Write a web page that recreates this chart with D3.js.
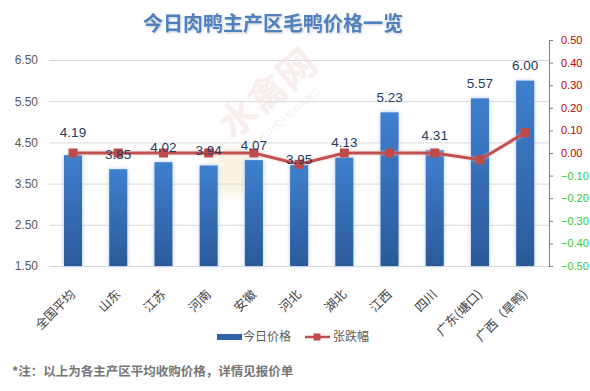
<!DOCTYPE html>
<html>
<head>
<meta charset="utf-8">
<script src="https://cdn.jsdelivr.net/npm/d3@7/dist/d3.min.js"></script>
<style>
  html, body { margin: 0; padding: 0; background: #ffffff; }
  svg { display: block; font-family: "Noto Sans CJK SC", "Noto Sans", sans-serif; }
</style>
</head>
<body>
<svg id="chart" width="590" height="391"></svg>
<script>
const categories = ["全国平均", "山东", "江苏", "河南", "安徽", "河北", "湖北", "江西", "四川", "广东(塘口)", "广西（旱鸭)"];
const prices = [4.19, 3.85, 4.02, 3.94, 4.07, 3.95, 4.13, 5.23, 4.31, 5.57, 6.00];
const changes = [0.00, 0.00, 0.00, 0.00, 0.00, -0.05, 0.00, 0.00, 0.00, -0.03, 0.09];
const leftTicks = [1.5, 2.5, 3.5, 4.5, 5.5, 6.5];
const rightTicks = [-0.5, -0.4, -0.3, -0.2, -0.1, 0, 0.1, 0.2, 0.3, 0.4, 0.5];
const titleText = "今日肉鸭主产区毛鸭价格一览";
const seriesNames = ["今日价格", "张跌幅"];
const noteText = "*注：以上为各主产区平均收购价格，详情见报价单";

// label vertical nudges (style, not data)
const labelNudge = {0: -8, 1: 0, 5: 9};
const numFont = "'Liberation Sans', Arial, sans-serif";

const svg = d3.select("#chart");
const defs = svg.append("defs");

const grad = defs.append("linearGradient").attr("id", "barGrad")
  .attr("x1", 0).attr("y1", 0).attr("x2", 0).attr("y2", 1);
grad.append("stop").attr("offset", "0%").attr("stop-color", "#3f7fcf");
grad.append("stop").attr("offset", "100%").attr("stop-color", "#2b5a9a");

const glow = defs.append("filter").attr("id", "glow")
  .attr("x", "-50%").attr("y", "-10%").attr("width", "200%").attr("height", "120%");
glow.append("feDropShadow").attr("dx", 0).attr("dy", 0).attr("stdDeviation", 2)
  .attr("flood-color", "#9cc3f0").attr("flood-opacity", 0.8);

const lineGlow = defs.append("filter").attr("id", "lineGlow")
  .attr("x", "-10%").attr("y", "-50%").attr("width", "120%").attr("height", "200%");
lineGlow.append("feDropShadow").attr("dx", 0).attr("dy", 0).attr("stdDeviation", 1.5)
  .attr("flood-color", "#f2b8b5").attr("flood-opacity", 0.8);

const titleShadow = defs.append("filter").attr("id", "titleShadow");
titleShadow.append("feDropShadow").attr("dx", 1).attr("dy", 1).attr("stdDeviation", 1)
  .attr("flood-color", "#9aa9bd").attr("flood-opacity", 0.6);

const wmBlur = defs.append("filter").attr("id", "wmBlur");
wmBlur.append("feGaussianBlur").attr("stdDeviation", 6);

const x = d3.scaleBand().domain(categories).range([50.4, 547.8])
  .paddingInner(0.6).paddingOuter(0.3);
const yL = d3.scaleLinear().domain([1.5, 6.5]).range([266, 60]);
const yR = d3.scaleLinear().domain([-0.5, 0.5]).range([266, 40]);

// Watermark
svg.append("circle").attr("cx", 232).attr("cy", 172).attr("r", 24)
  .attr("fill", "#f6efd6").attr("opacity", 0.7).attr("filter", "url(#wmBlur)");
const wm = svg.append("g").attr("transform", "translate(276,104) rotate(-40)");
wm.append("text").attr("text-anchor", "middle").attr("font-size", 38)
  .attr("font-weight", "bold").attr("fill", "#f8eeee").text("水禽网");
wm.append("text").attr("text-anchor", "middle").attr("y", 20).attr("font-size", 10)
  .attr("fill", "#f0f0f0").attr("letter-spacing", 1.5).text("SHUIQINWANG");

// Title
svg.append("text").attr("x", 273).attr("y", 31).attr("text-anchor", "middle")
  .attr("font-size", 20).attr("font-weight", "bold").attr("fill", "#4f7fbd")
  .attr("filter", "url(#titleShadow)").text(titleText);

// Gridlines + left axis
const leftAxis = d3.axisLeft(yL).tickValues(leftTicks)
  .tickFormat(d3.format(".2f")).tickSize(-(549 - 49)).tickPadding(11);
const gl = svg.append("g").attr("transform", "translate(49,0)").call(leftAxis);
gl.select(".domain").remove();
gl.selectAll(".tick line").attr("stroke", "#d9d9d9").attr("stroke-width", 1);
gl.selectAll(".tick text").attr("font-size", 12).attr("fill", "#595959")
  .attr("font-family", numFont);

// Right axis
const rightAxis = d3.axisRight(yR).tickValues(rightTicks)
  .tickFormat(d3.format(".2f")).tickSizeInner(4).tickSizeOuter(0).tickPadding(8);
const gr = svg.append("g").attr("transform", "translate(549,0)").call(rightAxis);
gr.select(".domain").attr("stroke", "#808080");
gr.selectAll(".tick line").attr("stroke", "#808080");
gr.selectAll(".tick text").attr("font-size", 11).attr("font-family", numFont)
  .attr("fill", d => d < 0 ? "#2ecc40" : "#c00000");

// Bars
svg.append("g").selectAll("rect").data(prices).join("rect")
  .attr("x", (d, i) => x(categories[i]))
  .attr("y", d => yL(d))
  .attr("width", x.bandwidth())
  .attr("height", d => yL(1.5) - yL(d))
  .attr("fill", "url(#barGrad)")
  .attr("filter", "url(#glow)");

// Line
const cx = (d, i) => x(categories[i]) + x.bandwidth() / 2;
const line = d3.line().x(cx).y(d => yR(d));
svg.append("path").datum(changes).attr("d", line)
  .attr("fill", "none").attr("stroke", "#c0504d").attr("stroke-width", 3)
  .attr("filter", "url(#lineGlow)");
svg.append("g").selectAll("rect").data(changes).join("rect")
  .attr("x", (d, i) => cx(d, i) - 4.5).attr("y", d => yR(d) - 4.5)
  .attr("width", 9).attr("height", 9).attr("fill", "#be4b48");

// Value labels
svg.append("g").selectAll("text").data(prices).join("text")
  .attr("x", (d, i) => cx(d, i))
  .attr("y", (d, i) => yL(d) - 15 + (labelNudge[i] || 0))
  .attr("dy", "0.35em")
  .attr("text-anchor", "middle").attr("font-size", 13.5)
  .attr("font-family", numFont)
  .attr("fill", "#243a5e").text(d => d3.format(".2f")(d));

// X labels
svg.append("g").selectAll("text").data(categories).join("text")
  .attr("transform", (d, i) => `translate(${x(d) + x.bandwidth() / 2},${292}) rotate(-45)`)
  .attr("text-anchor", "end").attr("dy", "0.35em")
  .attr("font-size", 12.5).attr("fill", "#404040").text(d => d);

// Legend
const lg = svg.append("g");
lg.append("rect").attr("x", 217).attr("y", 334).attr("width", 25).attr("height", 6)
  .attr("fill", "#2f62a8");
lg.append("text").attr("x", 243).attr("y", 337).attr("dy", "0.35em")
  .attr("font-size", 12).attr("fill", "#595959").text(seriesNames[0]);
lg.append("line").attr("x1", 305).attr("x2", 330).attr("y1", 337).attr("y2", 337)
  .attr("stroke", "#c0504d").attr("stroke-width", 2.5);
lg.append("rect").attr("x", 313.5).attr("y", 333.5).attr("width", 7).attr("height", 7)
  .attr("fill", "#be4b48");
lg.append("text").attr("x", 333).attr("y", 337).attr("dy", "0.35em")
  .attr("font-size", 12).attr("fill", "#595959").text(seriesNames[1]);

// Note
svg.append("text").attr("x", 12).attr("y", 372).attr("dy", "0.35em")
  .attr("font-size", 12.5).attr("font-weight", "bold").attr("fill", "#767676")
  .text(noteText);
</script>
</body>
</html>
